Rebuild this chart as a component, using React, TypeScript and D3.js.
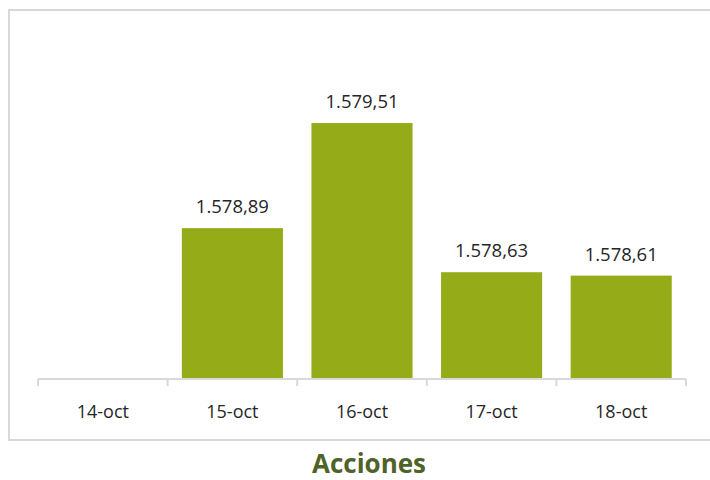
import React from "react";
import * as d3 from "d3";

const categories = ["14-oct", "15-oct", "16-oct", "17-oct", "18-oct"];
const values: (number | null)[] = [null, 1578.89, 1579.51, 1578.63, 1578.61];
const valueLabels = ["", "1.578,89", "1.579,51", "1.578,63", "1.578,61"];
const title = "Acciones";

const W = 710;
const H = 480;
const FONT = "'Open Sans', 'Noto Sans', sans-serif";

export default function App() {
  const x = d3
    .scaleBand<string>()
    .domain(categories)
    .range([38, 686])
    .paddingInner(0.22)
    .paddingOuter(0.11);
  const y = d3.scaleLinear().domain([1578, 1580]).range([379, 40]);
  const step = x.step();
  const base = y(1578);
  const boundaries = d3.range(categories.length + 1).map((i) => 38 + i * step);

  return (
    <svg
      width={W}
      height={H}
      style={{ position: "absolute", left: 0, top: 0, background: "#fff" }}
    >
      <rect x={9} y={10} width={W + 10} height={430} fill="#fff" stroke="#D9D9D9" strokeWidth={2} />
      {categories.map((c, i) => {
        const v = values[i];
        if (v == null) return null;
        const bx = x(c)!;
        const by = y(v);
        return (
          <g key={c}>
            <rect x={bx} y={by} width={x.bandwidth()} height={base - by} fill="#95AC18" />
            <text
              x={bx + x.bandwidth() / 2}
              y={by - 15}
              textAnchor="middle"
              fontFamily={FONT}
              fontSize={18.5}
              fill="#262626"
            >
              {valueLabels[i]}
            </text>
          </g>
        );
      })}
      <line x1={38} x2={686} y1={base} y2={base} stroke="#D9D9D9" strokeWidth={2} />
      {boundaries.map((bx, i) => (
        <line key={i} x1={bx} x2={bx} y1={base} y2={base + 7} stroke="#D9D9D9" strokeWidth={2} />
      ))}
      {categories.map((c) => (
        <text
          key={c}
          x={x(c)! + x.bandwidth() / 2}
          y={418}
          textAnchor="middle"
          fontFamily={FONT}
          fontSize={18}
          fill="#262626"
        >
          {c}
        </text>
      ))}
      <text
        x={369}
        y={473}
        textAnchor="middle"
        fontFamily={FONT}
        fontSize={26}
        fontWeight="bold"
        fill="#4F6228"
      >
        {title}
      </text>
    </svg>
  );
}
